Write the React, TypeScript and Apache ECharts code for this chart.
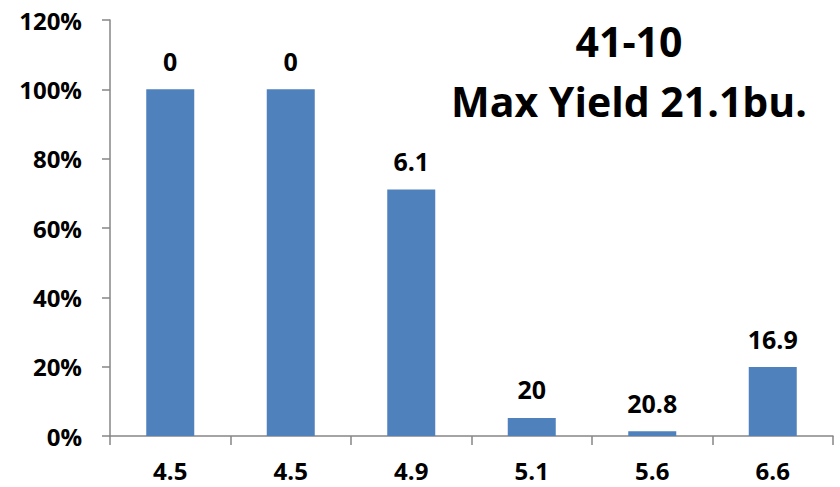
import React, { useEffect, useRef } from "react";
import * as echarts from "echarts";

// pH levels along the x axis (two plots share 4.5)
const categories = ["4.5", "4.5", "4.9", "5.1", "5.6", "6.6"];
// Yield loss relative to maximum yield, percent
const yieldLoss = [100, 100, 71.1, 5.2, 1.4, 19.9];
// Measured yield (bu.) shown above each bar
const yields = ["0", "0", "6.1", "20", "20.8", "16.9"];
const yTicks = [0, 20, 40, 60, 80, 100, 120];

const FONT = "'Open Sans', 'Liberation Sans', sans-serif";

export default function App() {
  const ref = useRef<HTMLDivElement>(null);

  useEffect(() => {
    if (!ref.current) return;
    const chart = echarts.init(ref.current, undefined, { renderer: "svg" });
    chart.setOption({
      animation: false,
      backgroundColor: "#ffffff",
      grid: { left: 110, right: 7, top: 20, bottom: 51, containLabel: false },
      title: {
        text: "41-10\nMax Yield 21.1bu.",
        left: 624,
        top: 6,
        textAlign: "center",
        textStyle: {
          fontFamily: FONT,
          fontSize: 41,
          fontWeight: "bold",
          color: "#000000",
          lineHeight: 60,
          align: "center",
        },
      },
      xAxis: {
        type: "category",
        data: categories,
        axisLine: { lineStyle: { color: "#868686", width: 1.5 } },
        axisTick: { show: true, length: 9, lineStyle: { color: "#868686", width: 1.5 } },
        axisLabel: {
          margin: 22,
          fontFamily: FONT,
          fontSize: 24,
          lineHeight: 24,
          fontWeight: "bold",
          color: "#000000",
        },
      },
      yAxis: {
        type: "value",
        min: yTicks[0],
        max: yTicks[yTicks.length - 1],
        interval: 20,
        splitLine: { show: false },
        axisLine: { show: true, lineStyle: { color: "#868686", width: 1.5 } },
        axisTick: { show: true, length: 8, lineStyle: { color: "#868686", width: 1.5 } },
        axisLabel: {
          margin: 28,
          fontFamily: FONT,
          fontSize: 24,
          fontWeight: "bold",
          color: "#000000",
          formatter: (v: number) => `${v}%`,
        },
      },
      series: [
        {
          type: "bar",
          data: yieldLoss,
          barWidth: 48,
          itemStyle: { color: "#4F81BD" },
          label: {
            show: true,
            position: "top",
            distance: 16,
            fontFamily: FONT,
            fontSize: 25,
            fontWeight: "bold",
            color: "#000000",
            formatter: (p: { dataIndex: number }) => yields[p.dataIndex],
          },
        },
      ],
    });
    return () => chart.dispose();
  }, []);

  return <div ref={ref} style={{ width: 840, height: 487, position: "absolute", left: 0, top: 0 }} />;
}
